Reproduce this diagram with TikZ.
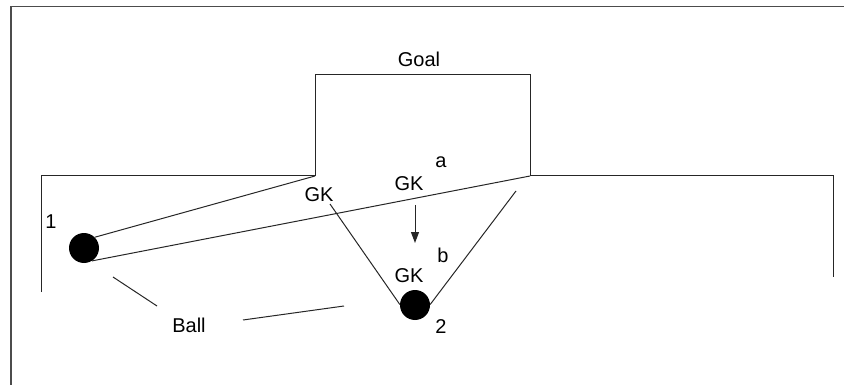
\documentclass[tikz,border=0pt]{standalone}
\usepackage{fontspec}
\setmainfont{Liberation Sans}
\usetikzlibrary{arrows.meta}
\begin{document}
\begin{tikzpicture}[x=1pt,y=-1pt,
  lbl/.style={font=\fontsize{20}{24}\selectfont, inner sep=0pt, text=black},
  fieldline/.style={draw=black!85, line width=1pt},
  ballnode/.style={circle, fill=black, minimum size=30pt, inner sep=0pt},
  frameline/.style={draw=black!70, line width=1.6pt}]
\useasboundingbox (0,0) rectangle (844,385);
% frame
\draw[frameline] (844,6.5) -- (11,6.5) -- (11,385);
% field and goal
\coordinate (fl) at (41,292);
\coordinate (lpost) at (315,176);
\coordinate (ltop) at (315,75);
\coordinate (rtop) at (530,75);
\coordinate (rpost) at (530,176);
\coordinate (fr) at (833,277);
\draw[fieldline] (fl) |- (lpost) -- (ltop) -- (rtop) -- (rpost) -| (fr);
% balls
\node[ballnode] (b1) at (84,248) {};
\node[ballnode] (b2) at (415,305) {};
% labels
\node[lbl] (goal) at (419,59) {Goal};
\node[lbl] (la) at (441,162) {a};
\node[lbl] (gkt) at (409,184) {GK};
\node[lbl] (gkl) at (319,195) {GK};
\node[lbl] (lb) at (443,255) {b};
\node[lbl] (gkb) at (409,276) {GK};
\node[lbl] (l2) at (441,327) {2};
\node[lbl] (l1) at (51,222) {1};
\node[lbl] (ball) at (189,325) {Ball};
% shot lines
\draw[fieldline] (b1.45) -- (lpost);
\draw[fieldline] (b1.-58) -- (rpost);
\coordinate (gkls) at (330,204);
\draw[fieldline] (gkls) -- (b2.178);
\coordinate (rts) at (516,191);
\draw[fieldline] (rts) -- (b2.2);
% keeper movement
\coordinate (arS) at (415,205);
\coordinate (arE) at (415,243);
\draw[fieldline, -{Triangle[length=11pt,width=8pt]}] (arS) -- (arE);
% ball callouts
\coordinate (c1s) at (113,277);
\coordinate (c1e) at (157,306);
\draw[fieldline] (c1s) -- (c1e);
\coordinate (c2s) at (243,320);
\coordinate (c2e) at (344,306);
\draw[fieldline] (c2s) -- (c2e);
\end{tikzpicture}
\end{document}
